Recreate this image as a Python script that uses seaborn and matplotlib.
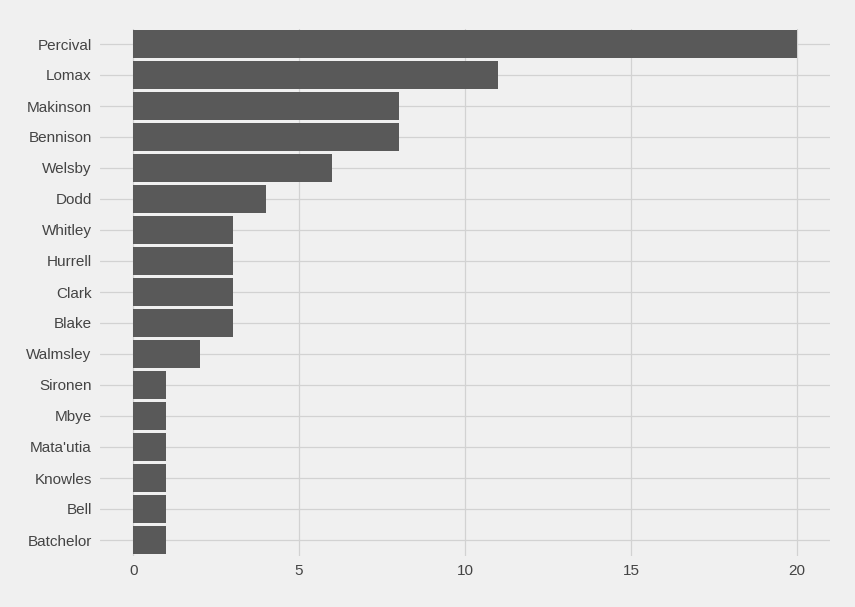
import matplotlib
matplotlib.use("Agg")
import matplotlib.pyplot as plt
import seaborn as sns
import pandas as pd

players = ["Percival", "Lomax", "Makinson", "Bennison", "Welsby", "Dodd", "Whitley",
           "Hurrell", "Clark", "Blake", "Walmsley", "Sironen", "Mbye", "Mata'utia",
           "Knowles", "Bell", "Batchelor"]
values = [20, 11, 8, 8, 6, 4, 3, 3, 3, 3, 2, 1, 1, 1, 1, 1, 1]
xticks = [0, 5, 10, 15, 20]

df = pd.DataFrame({"player": players, "value": values})

sns.set_theme(style="whitegrid")
plt.rcParams['font.family'] = ['Liberation Sans', 'DejaVu Sans']

fig = plt.figure(figsize=(8.55, 6.07), dpi=100, facecolor="#f0f0f0")
ax = fig.add_axes([100/855, 1-555.5/607, 730/855, 527/607])
ax.set_facecolor("#f0f0f0")
sns.barplot(data=df, x="value", y="player", color="#595959", saturation=1,
            width=0.92, ax=ax, order=players)
for p in ax.patches:
    p.set_edgecolor("none")
ax.set_xlim(-1, 21)
ax.set_ylim(16.5, -0.5)
ax.set_xticks(xticks)
ax.set_xlabel("")
ax.set_ylabel("")
ax.grid(True, axis="both", color="#d2d2d2", linewidth=0.9)
ax.set_axisbelow(True)
for s in ax.spines.values():
    s.set_visible(False)
ax.tick_params(axis="both", length=0, labelsize=11, colors="#444444", pad=6)
fig.savefig("out.png", dpi=100, facecolor="#f0f0f0")
